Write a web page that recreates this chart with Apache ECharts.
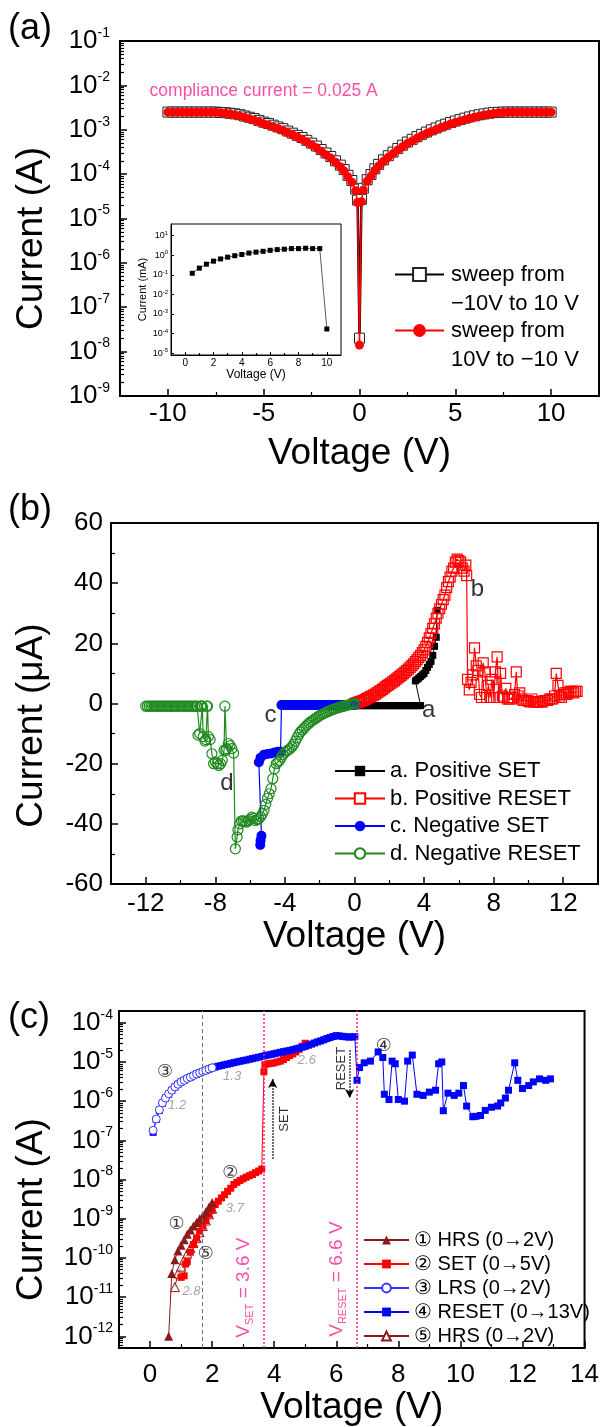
<!DOCTYPE html>
<html><head><meta charset="utf-8">
<script src="https://cdn.jsdelivr.net/npm/echarts@6/dist/echarts.min.js"></script>
<style>html,body{margin:0;padding:0;background:#fff}#c{width:602px;height:1427px}</style>
</head><body><div id="c"></div>
<script>
// ================= DATA =================
// ---- panel (a): I-V sweeps (V, A) ----
const aSweepUp = [[-10,2.51e-3],[-9.75,2.51e-3],[-9.5,2.51e-3],[-9.25,2.51e-3],[-9,2.51e-3],[-8.75,2.51e-3],[-8.5,2.51e-3],[-8.25,2.51e-3],[-8,2.51e-3],[-7.75,2.51e-3],[-7.5,2.5e-3],[-7.25,2.46e-3],[-7,2.43e-3],[-6.75,2.36e-3],[-6.5,2.29e-3],[-6.25,2.19e-3],[-6,2.05e-3],[-5.75,1.92e-3],[-5.5,1.79e-3],[-5.25,1.63e-3],[-5,1.49e-3],[-4.75,1.39e-3],[-4.5,1.27e-3],[-4.25,1.16e-3],[-4,1.06e-3],[-3.75,9.4e-4],[-3.5,8.4e-4],[-3.25,7.5e-4],[-3,6.7e-4],[-2.75,5.8e-4],[-2.5,5.0e-4],[-2.25,4.3e-4],[-2,3.6e-4],[-1.75,3.0e-4],[-1.5,2.5e-4],[-1.25,2.0e-4],[-1,1.6e-4],[-0.8,1.27e-4],[-0.6,9.4e-5],[-0.4,7.2e-5],[-0.2,4.6e-5],[-0.1,2.6e-5],[0,2.0e-8],[0.1,2.7e-5],[0.2,4.8e-5],[0.4,7.5e-5],[0.6,9.8e-5],[0.8,1.32e-4],[1,1.66e-4],[1.25,2.1e-4],[1.5,2.6e-4],[1.75,3.15e-4],[2,3.8e-4],[2.25,4.5e-4],[2.5,5.3e-4],[2.75,6.1e-4],[3,7.0e-4],[3.25,7.9e-4],[3.5,8.9e-4],[3.75,1.0e-3],[4,1.1e-3],[4.25,1.22e-3],[4.5,1.34e-3],[4.75,1.46e-3],[5,1.58e-3],[5.25,1.7e-3],[5.5,1.83e-3],[5.75,1.95e-3],[6,2.07e-3],[6.25,2.18e-3],[6.5,2.28e-3],[6.75,2.37e-3],[7,2.44e-3],[7.25,2.48e-3],[7.5,2.5e-3],[7.75,2.51e-3],[8,2.51e-3],[8.25,2.51e-3],[8.5,2.51e-3],[8.75,2.51e-3],[9,2.51e-3],[9.25,2.51e-3],[9.5,2.51e-3],[9.75,2.51e-3],[10,2.51e-3]];
const aSweepDown = [[10,2.5e-3],[9.75,2.5e-3],[9.5,2.5e-3],[9.25,2.5e-3],[9,2.5e-3],[8.75,2.5e-3],[8.5,2.5e-3],[8.25,2.5e-3],[8,2.5e-3],[7.75,2.5e-3],[7.5,2.46e-3],[7.25,2.41e-3],[7,2.34e-3],[6.75,2.25e-3],[6.5,2.15e-3],[6.25,2.04e-3],[6,1.93e-3],[5.75,1.81e-3],[5.5,1.69e-3],[5.25,1.57e-3],[5,1.46e-3],[4.75,1.35e-3],[4.5,1.23e-3],[4.25,1.12e-3],[4,1.01e-3],[3.75,9.2e-4],[3.5,8.2e-4],[3.25,7.3e-4],[3,6.45e-4],[2.75,5.6e-4],[2.5,4.9e-4],[2.25,4.15e-4],[2,3.5e-4],[1.75,2.9e-4],[1.5,2.4e-4],[1.25,1.93e-4],[1,1.53e-4],[0.8,1.21e-4],[0.6,9.0e-5],[0.4,6.9e-5],[0.2,4.4e-5],[0.1,2.4e-5],[0,1.4e-8],[-0.1,2.3e-5],[-0.2,4.2e-5],[-0.4,6.6e-5],[-0.6,8.7e-5],[-0.8,1.17e-4],[-1,1.47e-4],[-1.25,1.85e-4],[-1.5,2.3e-4],[-1.75,2.75e-4],[-2,3.3e-4],[-2.25,3.95e-4],[-2.5,4.6e-4],[-2.75,5.3e-4],[-3,6.1e-4],[-3.25,6.9e-4],[-3.5,7.7e-4],[-3.75,8.6e-4],[-4,9.7e-4],[-4.25,1.06e-3],[-4.5,1.16e-3],[-4.75,1.27e-3],[-5,1.37e-3],[-5.25,1.5e-3],[-5.5,1.65e-3],[-5.75,1.78e-3],[-6,1.91e-3],[-6.25,2.05e-3],[-6.5,2.17e-3],[-6.75,2.27e-3],[-7,2.36e-3],[-7.25,2.42e-3],[-7.5,2.48e-3],[-7.75,2.5e-3],[-8,2.5e-3],[-8.25,2.5e-3],[-8.5,2.5e-3],[-8.75,2.5e-3],[-9,2.5e-3],[-9.25,2.5e-3],[-9.5,2.5e-3],[-9.75,2.5e-3],[-10,2.5e-3]];
const aCompliance = 2.8e-3;
const aComplianceText = ['compliance current = 0.025 A', -10.93, 7.2e-3];
// inset (V, mA)
const insetIV = [[0.5,0.12],[1,0.22],[1.5,0.35],[2,0.5],[2.5,0.65],[3,0.8],[3.5,0.95],[4,1.1],[4.5,1.3],[5,1.45],[5.5,1.6],[6,1.8],[6.5,1.95],[7,2.05],[7.5,2.2],[8,2.2],[8.5,2.3],[9,2.2],[9.5,2.2],[10,1.7e-4]];

// ---- panel (b): (V, uA) ----
const bPosSet = [[0,-0.7],[0.1,-0.7],[0.2,-0.7],[0.3,-0.7],[0.4,-0.7],[0.5,-0.7],[0.6,-0.7],[0.7,-0.7],[0.8,-0.7],[0.9,-0.7],[1,-0.7],[1.1,-0.7],[1.2,-0.7],[1.3,-0.7],[1.4,-0.7],[1.5,-0.7],[1.6,-0.7],[1.7,-0.7],[1.8,-0.7],[1.9,-0.7],[2,-0.7],[2.1,-0.7],[2.2,-0.7],[2.3,-0.7],[2.4,-0.7],[2.5,-0.7],[2.6,-0.7],[2.7,-0.7],[2.8,-0.7],[2.9,-0.7],[3,-0.7],[3.1,-0.7],[3.2,-0.7],[3.3,-0.7],[3.4,-0.7],[3.5,-0.7],[3.6,-0.7],[3.7,-0.7],[3.8,-0.7],[3.5,7.5],[3.6,8],[3.7,8.5],[3.8,9],[3.9,9.5],[4.0,10],[4.1,11],[4.2,12],[4.3,13],[4.4,14],[4.5,16],[4.6,19],[4.7,22],[4.75,31]];
const bPosReset = [[0,0],[0.1,0.2],[0.2,0.4],[0.3,0.6],[0.4,0.8],[0.5,1.0],[0.6,1.3],[0.7,1.6],[0.8,1.9],[0.9,2.2],[1.0,2.5],[1.1,2.8],[1.2,3.1],[1.3,3.5],[1.4,3.9],[1.5,4.3],[1.6,4.7],[1.7,5.1],[1.8,5.6],[1.9,6.0],[2.0,6.4],[2.1,6.8],[2.2,7.2],[2.3,7.6],[2.4,8.1],[2.5,8.5],[2.6,9.0],[2.7,9.4],[2.8,9.9],[2.9,10.4],[3.0,10.9],[3.1,11.4],[3.2,12.0],[3.3,12.6],[3.4,13.2],[3.5,13.9],[3.6,14.6],[3.7,15.3],[3.8,16.0],[3.9,16.9],[4.0,17.8],[4.1,19.0],[4.2,20.3],[4.3,21.8],[4.4,23.3],[4.5,25.0],[4.6,26.5],[4.7,28.4],[4.8,30.0],[4.9,31.5],[5.0,33.0],[5.1,34.5],[5.2,36.0],[5.3,38.5],[5.4,40.5],[5.5,42.0],[5.6,44.0],[5.7,45.0],[5.8,47.0],[5.9,48.0],[6.0,47.5],[6.1,47.0],[6.2,45.0],[6.3,44.0],[6.4,46.0],[6.45,42.5],[6.5,8],[6.6,4.5],[6.7,7],[6.8,9.5],[6.9,18.5],[7.0,12.5],[7.1,11],[7.2,3],[7.3,2],[7.4,13.5],[7.5,10.5],[7.6,2],[7.7,6],[7.8,2],[7.9,8],[8.0,2],[8.1,10.5],[8.2,15.5],[8.3,2],[8.4,10],[8.5,2.5],[8.6,2],[8.7,5],[8.8,1.5],[8.9,1.5],[9.0,1.5],[9.1,2],[9.2,3],[9.3,10.5],[9.4,2.5],[9.5,3.5],[9.6,1.5],[9.7,1],[9.8,1],[9.9,1],[10.0,0.8],[10.1,0.5],[10.2,1.5],[10.3,0.5],[10.4,0.5],[10.5,0.5],[10.6,0.5],[10.7,0.5],[10.8,0.5],[10.9,1],[11.0,1],[11.1,1],[11.2,1.5],[11.3,1.5],[11.4,1.5],[11.5,2.5],[11.6,10],[11.7,6],[11.8,2.5],[11.9,2],[12.0,3],[12.1,3.5],[12.2,3],[12.3,3.5],[12.4,4],[12.5,4],[12.6,3.5],[12.7,4],[12.8,4]];
const bNegSet = [[0,-0.5],[-0.1,-0.5],[-0.2,-0.5],[-0.3,-0.5],[-0.4,-0.5],[-0.5,-0.5],[-0.6,-0.5],[-0.7,-0.5],[-0.8,-0.5],[-0.9,-0.5],[-1,-0.5],[-1.1,-0.5],[-1.2,-0.5],[-1.3,-0.5],[-1.4,-0.5],[-1.5,-0.5],[-1.6,-0.5],[-1.7,-0.5],[-1.8,-0.5],[-1.9,-0.5],[-2,-0.5],[-2.1,-0.5],[-2.2,-0.5],[-2.3,-0.5],[-2.4,-0.5],[-2.5,-0.5],[-2.6,-0.5],[-2.7,-0.5],[-2.8,-0.5],[-2.9,-0.5],[-3,-0.5],[-3.1,-0.5],[-3.2,-0.5],[-3.3,-0.5],[-3.4,-0.5],[-3.5,-0.5],[-3.6,-0.5],[-3.7,-0.5],[-3.8,-0.5],[-3.9,-0.5],[-4,-0.5],[-4.1,-0.5],[-4.2,-0.5],[-4.25,-16],[-4.4,-16],[-4.6,-16.3],[-4.8,-16.6],[-5.0,-16.8],[-5.2,-17],[-5.4,-18],[-5.5,-19.5],[-5.35,-44],[-5.4,-45.5],[-5.42,-47]];
const bNegReset = [[0,0],[-0.1,-0.1],[-0.2,-0.25],[-0.3,-0.4],[-0.4,-0.55],[-0.5,-0.7],[-0.6,-0.85],[-0.7,-1.0],[-0.8,-1.15],[-0.9,-1.35],[-1.0,-1.5],[-1.1,-1.7],[-1.2,-1.9],[-1.3,-2.1],[-1.4,-2.35],[-1.5,-2.6],[-1.6,-2.85],[-1.7,-3.1],[-1.8,-3.4],[-1.9,-3.7],[-2.0,-4.0],[-2.1,-4.4],[-2.2,-4.8],[-2.3,-5.2],[-2.4,-5.6],[-2.5,-6.0],[-2.6,-6.5],[-2.7,-7.0],[-2.8,-7.6],[-2.9,-8.2],[-3.0,-8.8],[-3.1,-9.4],[-3.2,-10.3],[-3.3,-11.4],[-3.4,-12.5],[-3.5,-13.6],[-3.6,-14.4],[-3.7,-15.0],[-3.8,-15.4],[-3.9,-15.8],[-4.0,-16.2],[-4.1,-17.0],[-4.2,-17.8],[-4.3,-18.9],[-4.4,-19.5],[-4.5,-20.0],[-4.6,-21.7],[-4.7,-25.0],[-4.8,-28.3],[-4.9,-30.0],[-5.0,-31.5],[-5.1,-33.5],[-5.2,-35.5],[-5.3,-36.7],[-5.4,-37.6],[-5.5,-38.3],[-5.6,-38.6],[-5.7,-38.9],[-5.8,-38.2],[-5.9,-37.8],[-6.0,-38.5],[-6.1,-39.0],[-6.2,-39.4],[-6.3,-39.2],[-6.4,-39.0],[-6.5,-39.0],[-6.6,-40.0],[-6.7,-42.0],[-6.75,-44.4],[-6.85,-48.3],[-6.95,-16.5],[-7.05,-15.0],[-7.15,-14.0],[-7.25,-13.3],[-7.35,-15.0],[-7.4,-15.6],[-7.45,-0.9],[-7.5,-15.5],[-7.6,-18.9],[-7.7,-20.0],[-7.8,-20.6],[-7.9,-20.0],[-8.0,-19.4],[-8.1,-20.0],[-8.2,-16.7],[-8.3,-12.0],[-8.4,-11.0],[-8.45,-0.9],[-8.5,-0.9],[-8.55,-12.0],[-8.6,-12.5],[-8.7,-11.0],[-8.75,-0.9],[-8.8,-0.9],[-8.85,-0.9],[-8.9,-10.0],[-9.0,-10.5],[-9.05,-0.9],[-9.1,-0.9],[-9.2,-0.9],[-9.3,-0.9],[-9.4,-0.9],[-9.5,-0.9],[-9.6,-0.9],[-9.7,-0.9],[-9.8,-0.9],[-9.9,-0.9],[-10.0,-0.9],[-10.1,-0.9],[-10.2,-0.9],[-10.3,-0.9],[-10.4,-0.9],[-10.5,-0.9],[-10.6,-0.9],[-10.7,-0.9],[-10.8,-0.9],[-10.9,-0.9],[-11.0,-0.9],[-11.1,-0.9],[-11.2,-0.9],[-11.3,-0.9],[-11.4,-0.9],[-11.5,-0.9],[-11.6,-0.9],[-11.7,-0.9],[-11.8,-0.9],[-11.9,-0.9],[-12.0,-0.9]];
const bLetters = [['a',4.3,-2.3],['b',7.1,37.7],['c',-4.8,-4],['d',-7.3,-26.7]];

// ---- panel (c): (V, A) ----
const cHrs1 = [[0.6,1e-12],[0.7,4e-11],[0.8,9e-11],[0.9,1.5e-10],[1.0,2.1e-10],[1.1,2.9e-10],[1.2,4e-10],[1.3,5.2e-10],[1.4,6.5e-10],[1.5,8e-10],[1.6,1e-9],[1.7,1.2e-9],[1.8,1.5e-9],[1.9,2e-9],[2.0,2.6e-9]];
const cSet2 = [[1.0,3.2e-11],[1.1,3.5e-11],[1.15,7e-11],[1.2,8e-11],[1.3,1.4e-10],[1.4,2.2e-10],[1.5,3.2e-10],[1.6,4.8e-10],[1.7,6.5e-10],[1.8,9e-10],[1.9,1.3e-9],[2.0,1.7e-9],[2.1,2.3e-9],[2.2,2.8e-9],[2.3,3.4e-9],[2.4,4.1e-9],[2.5,5e-9],[2.6,6e-9],[2.7,7.5e-9],[2.8,8.5e-9],[2.9,9.5e-9],[3.0,1.05e-8],[3.1,1.15e-8],[3.2,1.25e-8],[3.3,1.35e-8],[3.4,1.5e-8],[3.5,1.65e-8],[3.6,1.85e-8],[3.67,5.6e-6],[3.7,8.5e-6],[3.8,9e-6],[3.9,9.2e-6],[4.0,9.5e-6],[4.1,1e-5],[4.2,1.05e-5],[4.3,1.15e-5],[4.4,1.3e-5],[4.5,1.45e-5],[4.6,1.6e-5],[4.7,1.8e-5],[4.8,2.1e-5],[4.9,2.5e-5],[5.0,3.0e-5]];
const cLrs3 = [[0.1,1.8e-7],[0.2,3.5e-7],[0.3,6e-7],[0.4,9e-7],[0.5,1.2e-6],[0.6,1.55e-6],[0.7,1.9e-6],[0.8,2.3e-6],[0.9,2.7e-6],[1.0,3.1e-6],[1.1,3.4e-6],[1.2,3.8e-6],[1.3,4.1e-6],[1.4,4.5e-6],[1.5,4.9e-6],[1.6,5.3e-6],[1.7,5.7e-6],[1.8,6.1e-6],[1.9,6.6e-6],[2.0,7.1e-6]];
const cReset4 = [[0.1,1.6e-7],[0.2,3.4e-7],[0.3,5.8e-7],[0.4,8.8e-7],[0.5,1.2e-6],[0.6,1.5e-6],[0.7,1.9e-6],[0.8,2.3e-6],[0.9,2.7e-6],[1.0,3.1e-6],[1.1,3.4e-6],[1.2,3.8e-6],[1.3,4.1e-6],[1.4,4.5e-6],[1.5,4.9e-6],[1.6,5.3e-6],[1.7,5.7e-6],[1.8,6.1e-6],[1.9,6.6e-6],[2.0,7.1e-6],[2.1,7.4e-6],[2.2,7.8e-6],[2.3,8.1e-6],[2.4,8.5e-6],[2.5,8.8e-6],[2.6,9.2e-6],[2.7,9.6e-6],[2.8,1.0e-5],[2.9,1.04e-5],[3.0,1.08e-5],[3.1,1.12e-5],[3.2,1.17e-5],[3.3,1.22e-5],[3.4,1.27e-5],[3.5,1.32e-5],[3.6,1.38e-5],[3.7,1.44e-5],[3.8,1.5e-5],[3.9,1.56e-5],[4.0,1.62e-5],[4.1,1.69e-5],[4.2,1.76e-5],[4.3,1.83e-5],[4.4,1.9e-5],[4.5,1.97e-5],[4.6,2.05e-5],[4.7,2.15e-5],[4.8,2.25e-5],[4.9,2.37e-5],[5.0,2.5e-5],[5.1,2.67e-5],[5.2,2.85e-5],[5.3,3.05e-5],[5.4,3.25e-5],[5.5,3.45e-5],[5.6,3.7e-5],[5.7,3.95e-5],[5.8,4.2e-5],[5.9,4.45e-5],[6.0,4.7e-5],[6.1,4.6e-5],[6.2,4.5e-5],[6.3,4.4e-5],[6.4,4.3e-5],[6.5,4.35e-5],[6.6,4.4e-5],[6.67,3.4e-6],[6.75,7.2e-6],[6.9,9.5e-6],[7.1,1.05e-5],[7.35,1.8e-5],[7.5,1.3e-5],[7.55,1.5e-6],[7.7,1.1e-6],[7.8,1.05e-5],[7.9,9e-6],[8.0,1.1e-6],[8.2,1.0e-6],[8.3,1.05e-5],[8.45,1.5e-5],[8.6,1.5e-6],[8.8,1.4e-6],[9.0,1.7e-6],[9.2,1.9e-6],[9.3,9e-6],[9.4,1.0e-5],[9.45,5.7e-7],[9.6,1.6e-6],[9.8,1.4e-6],[9.95,1.6e-6],[10.1,2.5e-6],[10.2,7.5e-7],[10.4,4e-7],[10.5,4.1e-7],[10.65,4.3e-7],[10.8,5.8e-7],[11.0,7e-7],[11.2,7.5e-7],[11.3,9e-7],[11.45,1.2e-6],[11.55,1.9e-6],[11.75,9.5e-6],[11.85,3.4e-6],[12.0,2.1e-6],[12.2,2.5e-6],[12.35,3.1e-6],[12.55,3.7e-6],[12.75,3.4e-6],[12.9,3.7e-6]];
const cHrs5 = [[0.8,1.8e-11],[0.9,4e-11],[1.0,6e-11],[1.1,9e-11],[1.2,1.3e-10],[1.3,1.8e-10],[1.4,2.4e-10],[1.5,3.2e-10],[1.6,4.5e-10],[1.7,6.5e-10],[1.8,9e-10],[1.9,1.3e-9],[2.0,1.8e-9]];
const cGrayLine = 1.68, cVsetLine = 3.67, cVresetLine = 6.67;
const cCircled = [['③',0.5,5.4e-6],['④',7.55,2.45e-5],['②',2.6,1.4e-8],['①',0.87,6.8e-10],['⑤',1.81,1.2e-10]];
const cGrayNotes = [['1.2',0.89,7.6e-7],['1.3',2.66,4.1e-6],['2.6',5.07,1.05e-5],['3.7',2.75,1.8e-9],['2.8',1.35,1.4e-11]];
const cVsetText = [3.04, 1.7e-11], cVresetText = [6.04, 2.8e-11];
const cSetArrow = [3.95, 3.4e-8, 3.7e-6], cResetArrow = [6.43, 2.0e-5, 1.2e-6];
const cSetWord = [4.33, 3.4e-7], cResetWord = [6.19, 6.6e-6];

// ================= CHART =================
const FONT = "'Liberation Sans', Arial, Helvetica, sans-serif";
const PINK = '#ff1f8f';
function decades(lo, hi){ const r=[]; for(let e=lo;e<=hi;e++) r.push(Number('1e'+e)); return r; }
function minorDec(lo, hi){ const r=[]; for(let e=lo;e<=hi;e++) for(let k=2;k<=9;k++) r.push(Number(k+'e'+e)); return r; }
function powLabel(v){ const e=Math.round(Math.log10(v)); return '{b|10}{s|'+e+'}'; }
const richBig = { b:{fontSize:26, lineHeight:30, fontFamily:FONT, color:'#000'}, s:{fontSize:14, lineHeight:14, verticalAlign:'top', fontFamily:FONT, color:'#000'} };
const richSmall = { b:{fontSize:9, lineHeight:11, fontFamily:FONT, color:'#000'}, s:{fontSize:6, lineHeight:6, verticalAlign:'top', fontFamily:FONT, color:'#000'} };

function mainAxis(kind, grid, min, max, ticks, o){
  const ax = {
    type: o.log ? 'log' : 'value', logBase:10, gridIndex:grid, min, max, position: kind==='x'?'bottom':'left',
    axisLine:{show:true, onZero:false, lineStyle:{color:'#000', width:o.lw||2}},
    axisTick:{show:true, inside:true, length:o.tick||7, customValues:ticks, lineStyle:{color:'#000', width:o.tw||1.5}},
    axisLabel:{show:true, customValues:ticks, margin:o.margin, fontSize:o.fs||26, fontFamily:FONT, color:'#000'},
    splitLine:{show:false}, minorTick:{show:false}, axisPointer:{show:false}
  };
  if (o.log){ ax.axisLabel.formatter = powLabel; ax.axisLabel.rich = o.rich || richBig; }
  if (o.name){ ax.name=o.name; ax.nameLocation='middle'; ax.nameGap=o.nameGap;
    ax.nameTextStyle={fontSize:o.nfs||37, fontFamily:FONT, color:'#000', padding:o.npad||0}; }
  return ax;
}
function minorAxis(kind, grid, min, max, ticks, len, log){
  return { type: log?'log':'value', logBase:10, gridIndex:grid, min, max, position: kind==='x'?'bottom':'left',
    axisLine:{show:false, onZero:false}, axisLabel:{show:false}, splitLine:{show:false},
    axisTick:{show:true, inside:true, length:len, customValues:ticks, lineStyle:{color:'#000', width:1.2}} };
}
function textItems(list, style){
  return list.map(([t,x,y]) => ({ value:[x,y], label:{ show:true, formatter:t, position:[0,0], align:'center', verticalAlign:'middle', ...style } }));
}
function noteSeries(xi, yi, data, extra){
  return Object.assign({ type:'scatter', xAxisIndex:xi, yAxisIndex:yi, symbolSize:1, itemStyle:{color:'rgba(0,0,0,0)'}, silent:true, z:20, data:data }, extra||{});
}

const aMin = 9.95e-10, aMax = 0.1005;
const inMin = Math.pow(10,-5.1), inMax = Math.pow(10,1.6);
const cMin = Math.pow(10,-12.3), cMax = Math.pow(10,-3.7);
const legA = {orient:'vertical', padding:0, itemWidth:49, itemHeight:16, selectedMode:false, left:394,
  textStyle:{fontSize:22, lineHeight:29, fontFamily:FONT, color:'#000', padding:[0,0,0,2]}};

const option = {
  animation:false,
  backgroundColor:'#fff',
  title: [
    {text:'(a)', left:8, top:11, padding:0, textStyle:{fontSize:36, fontWeight:'normal', fontFamily:FONT, color:'#000'}},
    {text:'(b)', left:8, top:492, padding:0, textStyle:{fontSize:36, fontWeight:'normal', fontFamily:FONT, color:'#000'}},
    {text:'(c)', left:8, top:1000, padding:0, textStyle:{fontSize:36, fontWeight:'normal', fontFamily:FONT, color:'#000'}}
  ],
  grid: [
    {left:120, top:41, width:479, height:355, show:true, borderColor:'#000', borderWidth:2, backgroundColor:'transparent'},
    {left:171, top:224, width:170, height:131, show:true, borderColor:'#000', borderWidth:1, backgroundColor:'#fff'},
    {left:111, top:523, width:487, height:361, show:true, borderColor:'#000', borderWidth:2, backgroundColor:'transparent'},
    {left:119, top:1011, width:466, height:346, show:true, borderColor:'#000', borderWidth:2, backgroundColor:'transparent'}
  ],
  xAxis: [
    mainAxis('x',0,-12.5,12.5,[-10,-5,0,5,10],{margin:5, name:'Voltage (V)', nameGap:39}),
    minorAxis('x',0,-12.5,12.5,[-7.5,-2.5,2.5,7.5],4),
    mainAxis('x',1,-1,11,[0,2,4,6,8,10],{margin:3, fs:10, tick:3, lw:1, tw:1, name:'Voltage (V)', nameGap:14, nfs:12}),
    minorAxis('x',1,-1,11,[1,3,5,7,9],2),
    mainAxis('x',2,-14,14,[-12,-8,-4,0,4,8,12],{margin:7, name:'Voltage (V)', nameGap:33}),
    minorAxis('x',2,-14,14,[-10,-6,-2,2,6,10],4),
    mainAxis('x',3,-1,14,[0,2,4,6,8,10,12,14],{margin:14, name:'Voltage (V)', nameGap:31}),
    minorAxis('x',3,-1,14,[1,3,5,7,9,11,13],4)
  ],
  yAxis: [
    mainAxis('y',0,aMin,aMax,decades(-9,-1),{log:true, margin:10, name:'Current (A)', nameGap:70, npad:[0,40,0,0]}),
    minorAxis('y',0,aMin,aMax,minorDec(-9,-2),4,true),
    mainAxis('y',1,inMin,inMax,decades(-5,1),{log:true, rich:richSmall, margin:3, tick:3, lw:1, tw:1, name:'Current (mA)', nameGap:20, nfs:11}),
    mainAxis('y',2,-60,60,[-60,-40,-20,0,20,40,60],{margin:8, name:'Current (\u03bcA)', nameGap:61, npad:[0,44,0,0]}),
    minorAxis('y',2,-60,60,[-50,-30,-10,10,30,50],4),
    mainAxis('y',3,cMin,cMax,decades(-12,-4),{log:true, margin:6, name:'Current (A)', nameGap:69, npad:[0,60,0,0]}),
    minorAxis('y',3,cMin,cMax,minorDec(-13,-4),4,true)
  ],
  legend: [
    Object.assign({}, legA, {data:[{name:'up', itemStyle:{color:'#fff'}}], top:231,
      formatter:()=> '\nsweep from\n\u221210V to 10 V'}),
    Object.assign({}, legA, {data:['down'], top:287,
      formatter:()=> '\nsweep from\n10V to \u221210 V'}),
    {data:['a. Positive SET', {name:'b. Positive RESET', itemStyle:{color:'#fff'}}, 'c. Negative SET', {name:'d. Negative RESET', itemStyle:{color:'#fff'}}],
     left:334, top:759, orient:'vertical', padding:0, itemWidth:50, itemHeight:13, itemGap:3.5, selectedMode:false,
     textStyle:{fontSize:22, lineHeight:24, fontFamily:FONT, color:'#000'}},
    {data:['\u2460 HRS (0\u21922V)','\u2461 SET (0\u21925V)',{name:'\u2462 LRS (0\u21922V)', itemStyle:{color:'#fff'}},'\u2463 RESET (0\u219213V)',{name:'\u2464 HRS (0\u21922V)', itemStyle:{color:'#fff'}}],
     left:363, top:1229, orient:'vertical', padding:0, itemWidth:45, itemHeight:11, itemGap:2, selectedMode:false,
     textStyle:{fontSize:20, lineHeight:22, fontFamily:FONT, color:'#000'}}
  ],
  series: [
    // ---- (a)
    {type:'line', name:'up', xAxisIndex:0, yAxisIndex:0, data:aSweepUp, symbol:'rect', symbolSize:10,
     itemStyle:{color:'#fff', borderColor:'#222', borderWidth:1}, lineStyle:{color:'#000', width:2.5}, z:2},
    {type:'line', name:'down', xAxisIndex:0, yAxisIndex:0, data:aSweepDown, symbol:'circle', symbolSize:9,
     itemStyle:{color:'#ff0000'}, lineStyle:{color:'#ff0000', width:1.5}, z:3,
     markLine:{silent:true, symbol:'none', label:{show:false}, data:[{yAxis:aCompliance}], lineStyle:{color:PINK, type:[3,3], width:1.5}}},
    noteSeries(0,0,textItems([aComplianceText],{align:'left', fontSize:17.5, fontFamily:FONT, color:PINK})),
    {type:'line', name:'inset', xAxisIndex:2, yAxisIndex:2, data:insetIV, symbol:'rect', symbolSize:5,
     itemStyle:{color:'#000'}, lineStyle:{color:'#333', width:0.8}, z:5},
    // ---- (b)
    {type:'line', name:'a. Positive SET', xAxisIndex:4, yAxisIndex:3, data:bPosSet, symbol:'rect', symbolSize:7,
     itemStyle:{color:'#000'}, lineStyle:{color:'#000', width:1}},
    {type:'line', name:'b. Positive RESET', xAxisIndex:4, yAxisIndex:3, data:bPosReset, symbol:'rect', symbolSize:10,
     itemStyle:{color:'rgba(255,255,255,0)', borderColor:'#ff0000', borderWidth:1.2}, lineStyle:{color:'#ff0000', width:1.2}},
    {type:'line', name:'c. Negative SET', xAxisIndex:4, yAxisIndex:3, data:bNegSet, symbol:'circle', symbolSize:10,
     itemStyle:{color:'#0000ff'}, lineStyle:{color:'#0000ff', width:1.2}},
    {type:'line', name:'d. Negative RESET', xAxisIndex:4, yAxisIndex:3, data:bNegReset, symbol:'circle', symbolSize:10,
     itemStyle:{color:'rgba(255,255,255,0)', borderColor:'#1f8a1f', borderWidth:1.2}, lineStyle:{color:'#1f8a1f', width:1.2}},
    noteSeries(4,3,textItems(bLetters,{fontSize:24, fontFamily:FONT, color:'#000'})),
    // ---- (c)
    {type:'line', name:'\u2464 HRS (0\u21922V)', xAxisIndex:6, yAxisIndex:5, data:cHrs5, symbol:'triangle', symbolSize:9,
     itemStyle:{color:'rgba(255,255,255,0.6)', borderColor:'#8b1a1a', borderWidth:1}, lineStyle:{color:'#8b1a1a', width:1}},
    {type:'line', name:'\u2461 SET (0\u21925V)', xAxisIndex:6, yAxisIndex:5, data:cSet2, symbol:'rect', symbolSize:7,
     itemStyle:{color:'#ff0000'}, lineStyle:{color:'#ff0000', width:1}},
    {type:'line', name:'\u2460 HRS (0\u21922V)', xAxisIndex:6, yAxisIndex:5, data:cHrs1, symbol:'triangle', symbolSize:9,
     itemStyle:{color:'#8b1a1a'}, lineStyle:{color:'#8b1a1a', width:1}},
    {type:'line', name:'\u2463 RESET (0\u219213V)', xAxisIndex:6, yAxisIndex:5, data:cReset4, symbol:'rect', symbolSize:7,
     itemStyle:{color:'#0000ff'}, lineStyle:{color:'#0000ff', width:1}},
    {type:'line', name:'\u2462 LRS (0\u21922V)', xAxisIndex:6, yAxisIndex:5, data:cLrs3, symbol:'circle', symbolSize:8,
     itemStyle:{color:'#fff', borderColor:'#3535ff', borderWidth:1}, lineStyle:{color:'#3535ff', width:1}},
    noteSeries(6,5,[].concat(
      textItems(cCircled,{fontSize:18, fontFamily:"'DejaVu Sans', "+FONT, color:'#000'}),
      textItems(cGrayNotes,{fontSize:13, fontStyle:'italic', fontFamily:FONT, color:'#8c8c8c'}),
      [{value:cVsetText, label:{show:true, position:[0,0], align:'center', verticalAlign:'middle', rotate:90,
        formatter:'{m|V}{u|SET}{m| = 3.6 V}', rich:{m:{fontSize:19, lineHeight:23, fontFamily:FONT, color:PINK}, u:{fontSize:11, lineHeight:11, verticalAlign:'bottom', fontFamily:FONT, color:PINK}}}},
       {value:cVresetText, label:{show:true, position:[0,0], align:'center', verticalAlign:'middle', rotate:90,
        formatter:'{m|V}{u|RESET}{m| = 6.6 V}', rich:{m:{fontSize:19, lineHeight:23, fontFamily:FONT, color:PINK}, u:{fontSize:11, lineHeight:11, verticalAlign:'bottom', fontFamily:FONT, color:PINK}}}},
       {value:cSetWord, label:{show:true, position:[0,0], align:'center', verticalAlign:'middle', rotate:90, formatter:'SET', fontSize:13, fontFamily:FONT, color:'#000'}},
       {value:cResetWord, label:{show:true, position:[0,0], align:'center', verticalAlign:'middle', rotate:90, formatter:'RESET', fontSize:13, fontFamily:FONT, color:'#000'}}]
    ), {markLine:{silent:true, symbol:'none', label:{show:false}, data:[
        {xAxis:cGrayLine, lineStyle:{color:'#707070', type:[4,3], width:1}},
        {xAxis:cVsetLine, lineStyle:{color:PINK, type:[2,2], width:1.5}},
        {xAxis:cVresetLine, lineStyle:{color:PINK, type:[2,2], width:1.5}},
        [{coord:[cSetArrow[0],cSetArrow[1]], symbol:'none'},{coord:[cSetArrow[0],cSetArrow[2]], symbol:'arrow', symbolSize:[7,9], lineStyle:{color:'#000', type:[1.5,1.5], width:1.5}}],
        [{coord:[cResetArrow[0],cResetArrow[1]], symbol:'none'},{coord:[cResetArrow[0],cResetArrow[2]], symbol:'arrow', symbolSize:[7,9], lineStyle:{color:'#000', type:[1.5,1.5], width:1.5}}]
      ]}})
  ]
};
const chart = echarts.init(document.getElementById('c'), null, {renderer:'canvas', width:602, height:1427});
chart.setOption(option);
</script>
</body></html>
